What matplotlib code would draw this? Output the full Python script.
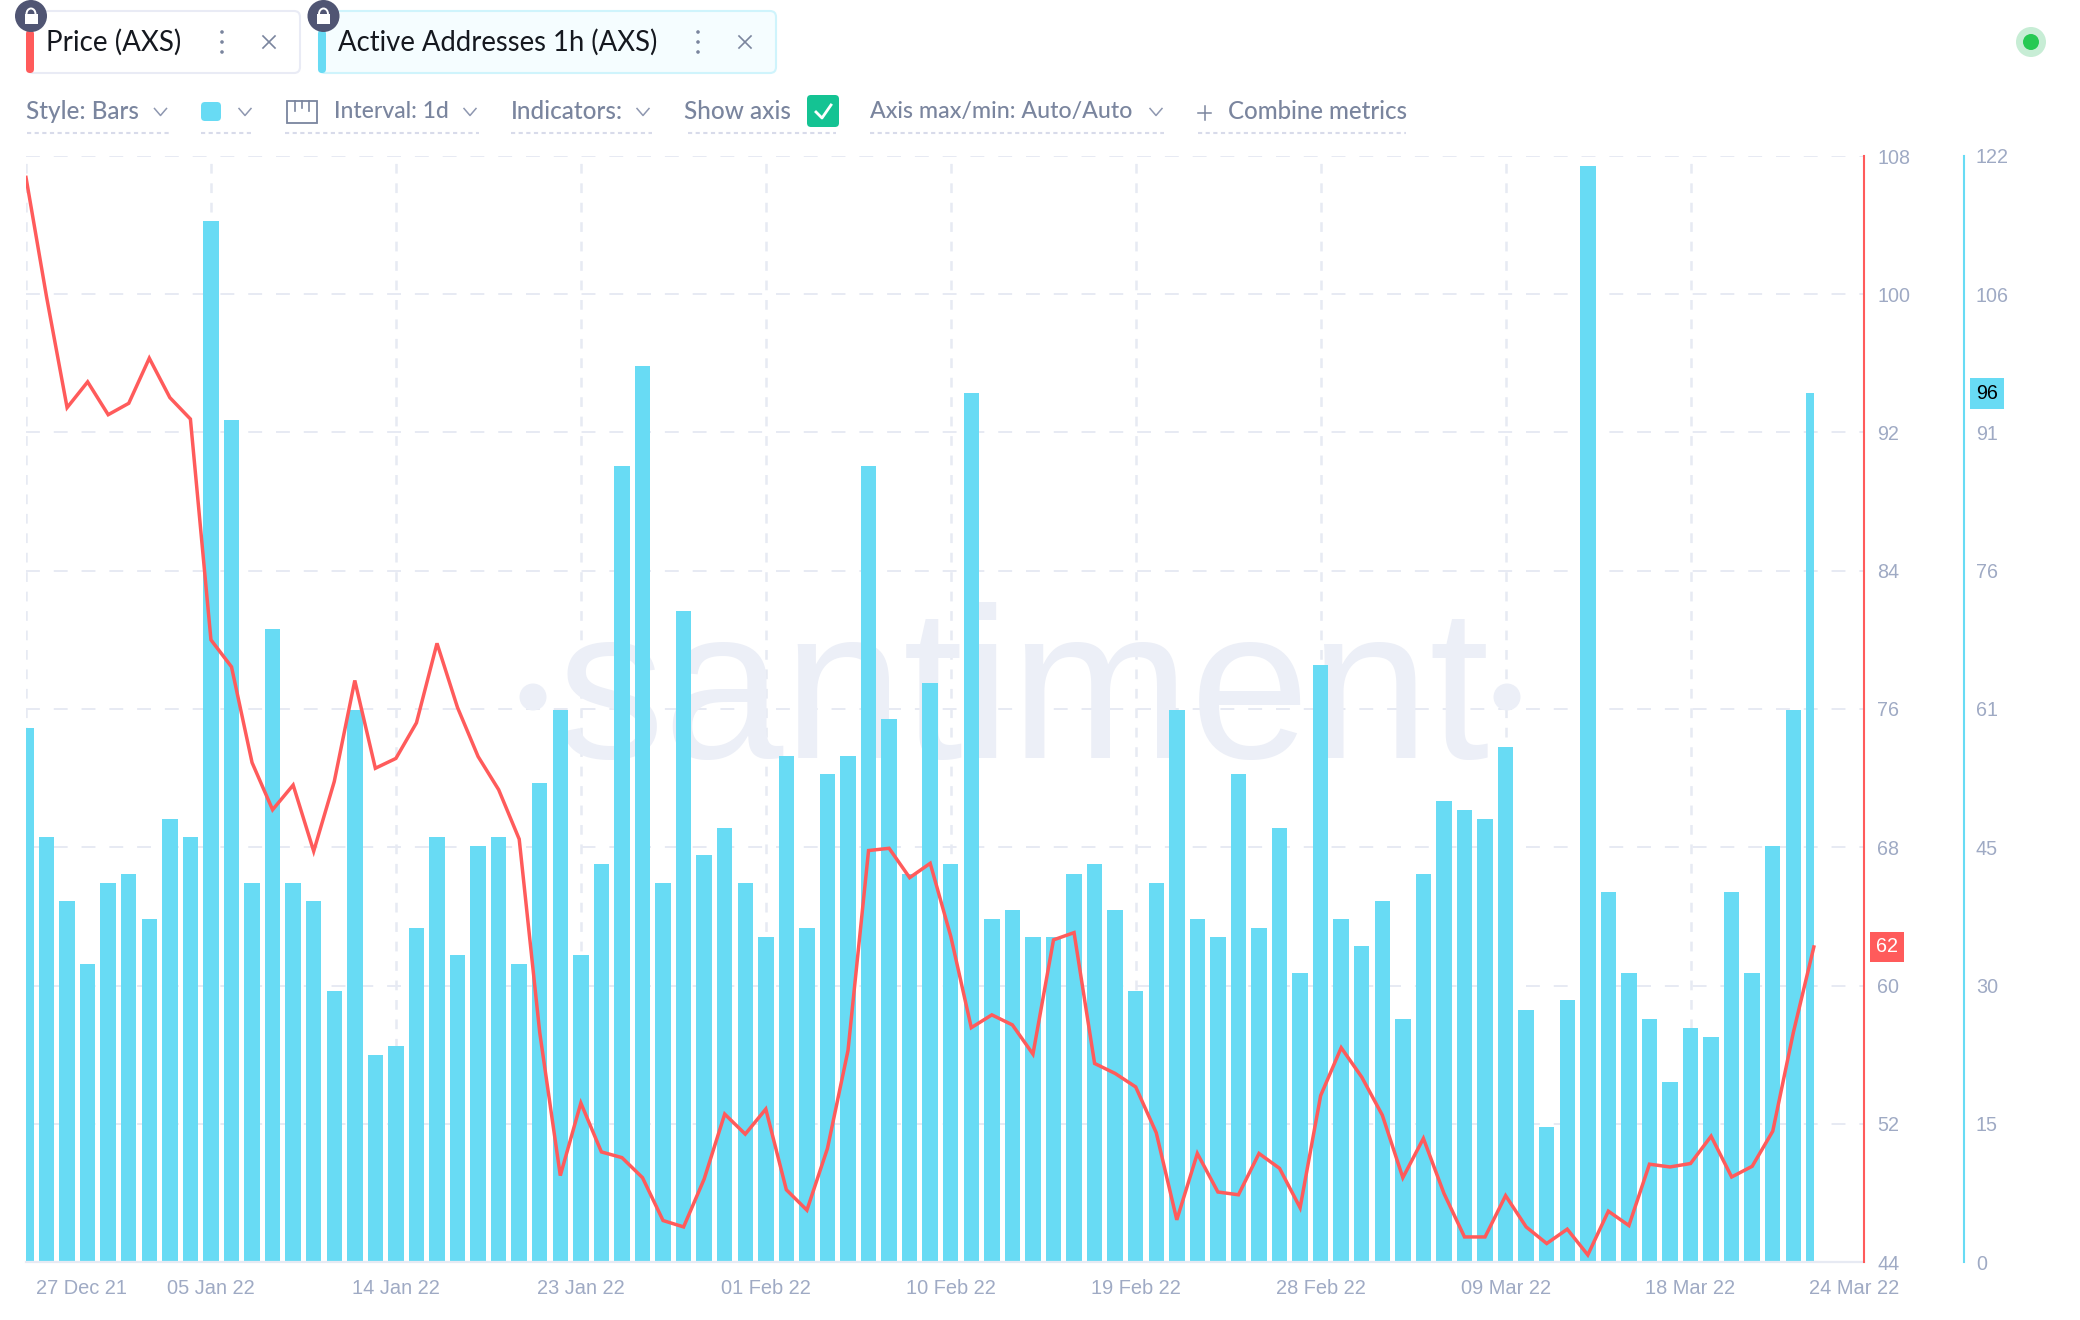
import matplotlib
matplotlib.use("Agg")
import matplotlib.pyplot as plt
import numpy as np
from matplotlib.patches import FancyBboxPatch, Circle, Rectangle, Arc
from matplotlib.transforms import Affine2D

plt.rcParams['lines.scale_dashes'] = False
plt.rcParams['font.family'] = ['Liberation Sans', 'DejaVu Sans']

# ---------- data ----------
addresses = [59,47,40,33,42,43,38,49,47,115,93,42,70,42,40,30,61,23,24,37,47,34,
             46,47,33,53,61,34,44,88,99,42,72,45,48,42,36,56,37,54,56,88,60,43,
             64,44,96,38,39,36,36,43,44,39,30,42,61,38,36,54,37,48,32,66,38,35,
             40,27,43,51,50,49,57,28,15,29,121,41,32,27,20,26,25,41,32,46,61,96]
price = [106.76,99.85,93.44,94.93,93.03,93.69,96.30,94.02,92.78,80.0,78.44,72.9,70.17,71.6,
         67.77,71.8,77.65,72.57,73.14,75.2,79.8,76.08,73.25,71.33,68.47,57.27,49.0,53.2,
         50.37,50.04,48.88,46.4,46.03,48.8,52.56,51.4,52.85,48.18,47.0,50.57,56.24,67.81,
         67.94,66.24,67.07,62.85,57.56,58.3,57.72,56.03,62.64,63.06,55.49,54.91,54.13,51.48,
         46.44,50.28,48.05,47.89,50.28,49.42,47.14,53.63,56.4,54.7,52.5,48.88,51.15,47.97,
         45.45,45.45,47.84,46.03,45.07,45.9,44.41,46.94,46.11,49.66,49.5,49.7,51.28,48.92,
         49.54,51.57,57.27,62.23]
date_ticks = [9,18,27,36,45,54,63,72,81]
date_labels = ['05 Jan 22','14 Jan 22','23 Jan 22','01 Feb 22','10 Feb 22','19 Feb 22','28 Feb 22','09 Mar 22','18 Mar 22']
first_label, last_label = '27 Dec 21', '24 Mar 22'
price_ticks = [44,52,60,68,76,84,92,100,108]
addr_ticks = [0,15.25,30.5,45.75,61,76.25,91.5,106.75,122]
addr_tick_labels = ['0','15','30','45','61','76','91','106','122']

# ---------- style ----------
CYAN, RED = '#68DBF4', '#FF5B5B'
GRID, TICK, UI, DARK = '#E7EAF3', '#9FAAC4', '#7A859E', '#15181F'
W, H = 2080, 1320
fig = plt.figure(figsize=(W/100, H/100), dpi=100, facecolor='white')
px = Affine2D().scale(1, -1).translate(0, H)
L, R, T, B = 26, 1864, 156, 1262
ax = fig.add_axes([L/W, 1-B/H, (R-L)/W, (B-T)/H])
x = np.arange(len(addresses))
BW = 0.75
TOP_INSET = 0.15   # the reference's bar tops sit about 1px under the value
tops = np.array(addresses) - TOP_INSET
ax.bar(x[:-1], tops[:-1], width=BW, color=CYAN, zorder=2)
ax.bar(x[-1]-BW/2, tops[-1], width=BW/2, align='edge', color=CYAN, zorder=2)
ax.set_xlim(0, (R-L)/20.55)
ax.set_ylim(0, 122)
ax.set_axisbelow(True)
ax.set_xticks([0]+date_ticks, ['']+date_labels)
ax.set_yticks(addr_ticks, addr_tick_labels)
ax.tick_params(axis='x', length=0, pad=12, labelsize=14.4, labelcolor=TICK)
ax.grid(axis='y', color=GRID, lw=1.4, linestyle=(0,(10,10)))
ax.grid(axis='x', color=GRID, lw=1.8, linestyle=(0,(7,7)))
ax.annotate(first_label, xy=(x[0],0), xycoords=('data','axes fraction'), xytext=(55,-26),
            textcoords='offset pixels', ha='center', va='center', fontsize=14.4, color=TICK, annotation_clip=False)
ax.annotate(last_label, xy=(x[-1],0), xycoords=('data','axes fraction'), xytext=(40,-26),
            textcoords='offset pixels', ha='center', va='center', fontsize=14.4, color=TICK, annotation_clip=False)
# watermark
ax.text(556, 758, 'santiment', transform=px, fontsize=155, color='#ECEFF7', ha='left', va='baseline',
        zorder=0.6, clip_on=False)
for cx in (533, 1507):
    ax.add_patch(Circle((cx, 697), 13.5, transform=px, color='#ECEFF7', lw=0, zorder=0.6, clip_on=False))

axp = ax.twinx()
axp.set_zorder(ax.get_zorder()+1)
axp.plot(x, price, color=RED, lw=2.5, solid_joinstyle='miter', zorder=5)
axp.set_ylim(44, 108)
axp.set_yticks(price_ticks)
axp.yaxis.tick_right()
axp.tick_params(axis='y', length=0, pad=9.6, labelsize=14.2, labelcolor=TICK)
for s in ['left','top','bottom']:
    axp.spines[s].set_visible(False)
axp.spines['right'].set_color(RED); axp.spines['right'].set_linewidth(1.5)

ax.yaxis.tick_right()
ax.tick_params(axis='y', length=0, pad=8.6, labelsize=14.2, labelcolor=TICK)
for s in ['left','top']:
    ax.spines[s].set_visible(False)
ax.spines['bottom'].set_color(GRID); ax.spines['bottom'].set_linewidth(1.6)
ax.spines['right'].set_position(('outward', 72))
ax.spines['right'].set_color(CYAN); ax.spines['right'].set_linewidth(1.5)

# last-value badges
axp.annotate(f'{round(price[-1])}', xy=(1, price[-1]), xycoords=('axes fraction','data'), xytext=(23,0),
             textcoords='offset pixels', ha='center', va='center', fontsize=14.2, color='white',
             bbox=dict(boxstyle='square,pad=0.3', fc=RED, ec='none'), annotation_clip=False)
axp.annotate(f'{addresses[-1]}', xy=(1, addresses[-1]/122), xycoords='axes fraction', xytext=(123,-2),
            textcoords='offset pixels', ha='center', va='center', fontsize=14.2, color='black',
            bbox=dict(boxstyle='square,pad=0.3', fc=CYAN, ec='none'), annotation_clip=False)

# ---------- UI chrome ----------
ui = fig.add_axes([0,0,1,1], zorder=20)
ui.set_xlim(0,W); ui.set_ylim(H,0); ui.axis('off'); ui.patch.set_visible(False)
UIFONT = ['Lato','DejaVu Sans']
def rbox(x0,y0,x1,y1,r,fc,ec='none',lw=0,z=1):
    ui.add_patch(FancyBboxPatch((x0+r,y0+r),x1-x0-2*r,y1-y0-2*r,boxstyle=f'round,pad={r},rounding_size={r}',fc=fc,ec=ec,lw=lw,zorder=z))
def chev(cx,cy=112,s=6,c='#8E97B0'):
    ui.plot([cx-s,cx,cx+s],[cy-3.5,cy+3.5,cy-3.5],color=c,lw=1.1,zorder=3)
def dash(x0,x1,y=133):
    ui.plot([x0,x1],[y,y],color='#D8DBEA',lw=1.5,linestyle=(0,(3,2.5)),zorder=2)
def label(xl,t,size=17.5,c=UI,y=111.5,w='medium'):
    ui.text(xl,y,t,fontsize=size,color=c,ha='left',va='center',family=UIFONT,fontweight=w,zorder=4)
def kebab(cx):
    for yy in (32,42,52):
        ui.add_patch(Circle((cx,yy),1.8,color=UI,lw=0,zorder=4))
def cross(cx,cy=42,s=6):
    ui.plot([cx-s,cx+s],[cy-s,cy+s],color=UI,lw=1.2,zorder=4)
    ui.plot([cx-s,cx+s],[cy+s,cy-s],color=UI,lw=1.2,zorder=4)
def lock(cx):
    ui.add_patch(Circle((cx,16),16,color='#505573',lw=0,zorder=6))
    ui.add_patch(Rectangle((cx-6.5,14),13,10,color='white',lw=0,zorder=7))
    ui.add_patch(Arc((cx,14),9,11,theta1=180,theta2=360,color='white',lw=1.4,zorder=7))

rbox(27,11,300,73,6,'white','#E9EBF5',1.5)
rbox(319,11,776,73,6,'#F5FDFF','#CFF4FC',1.5)
rbox(26,30,34,73,4,RED,z=2); rbox(318,30,326,73,4,CYAN,z=2)
lock(31); lock(323.5)
label(46,'Price (AXS)',20,DARK,42.5,'normal'); label(338,'Active Addresses 1h (AXS)',19.8,DARK,42.5,'normal')
kebab(222); cross(269); kebab(698); cross(745)

label(26.5,'Style: Bars'); chev(160.5); dash(26.5,169)
rbox(201,102,221,121,4,CYAN); chev(245); dash(201,253)
ui.add_patch(Rectangle((287,101),30,22,fc='none',ec=UI,lw=1.3,zorder=3))
for xx,yy in ((295,111),(302,108),(309,111)):
    ui.plot([xx,xx],[101,yy],color=UI,lw=1.2,zorder=3)
label(333.6,'Interval: 1d',16.5); chev(470); dash(285,479)
label(511,'Indicators:'); chev(643); dash(511,652)
label(684.5,'Show axis'); rbox(807,95,839,127,4,'#14C393'); dash(688,836)
ui.plot([816,822,831],[112,118,105],color='white',lw=2,zorder=4)
label(870,'Axis max/min: Auto/Auto',16.7); chev(1156); dash(870,1164)
ui.plot([1204.5,1204.5],[106,120],color=UI,lw=1.1,zorder=3); ui.plot([1198,1211],[113,113],color=UI,lw=1.1,zorder=3)
label(1227.7,'Combine metrics',17.3); dash(1198,1406)
ui.add_patch(Circle((2031,42),15,color='#C7EDD5',lw=0))
ui.add_patch(Circle((2031,42),8,color='#26C953',lw=0,zorder=3))

fig.savefig('out.png', dpi=100, facecolor='white')
